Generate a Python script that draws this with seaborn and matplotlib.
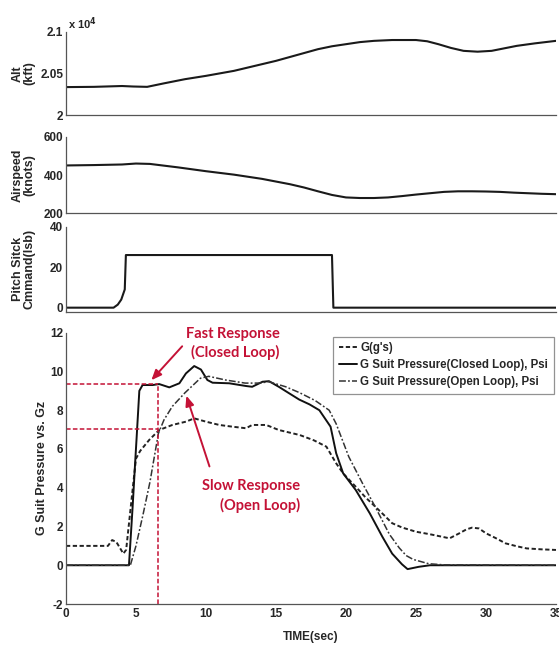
import matplotlib
matplotlib.use("Agg")
import matplotlib.pyplot as plt
import seaborn as sns

# ---------------- data ----------------
alt_time = [0, 2, 4, 4.8, 5.8, 7.0, 8.5, 10, 11, 12, 13.5, 15, 16.5, 18, 19, 20, 21, 22,
            23.3, 25, 25.8, 26.6, 27.5, 28.4, 29.4, 30.4, 31.3, 32.2, 33.5, 35]
alt_ft = [20335, 20338, 20348, 20342, 20338, 20380, 20430, 20470, 20500, 20530, 20590,
          20650, 20720, 20790, 20825, 20850, 20875, 20890, 20900, 20900, 20885, 20850,
          20805, 20770, 20760, 20770, 20800, 20830, 20860, 20890]
alt_ticks = [20000, 20500, 21000]
alt_ticklabels = ["2", "2.05", "2.1"]

spd_time = [0, 2, 4, 5, 6, 8, 10, 12, 14, 16, 17, 18, 19, 20, 21, 22, 23, 24, 25, 26,
            27, 28, 29, 30, 31, 32, 33, 34, 35]
airspeed = [450, 452, 455, 460, 458, 440, 420, 402, 380, 352, 335, 315, 296, 283, 280,
            280, 283, 290, 298, 305, 312, 315, 315, 314, 312, 308, 305, 302, 300]

pitch_time = [0, 3.4, 3.7, 3.95, 4.1, 4.2, 4.28, 19.0, 19.1, 35]
pitch_cmd = [0, 0, 1.5, 4, 7, 9, 26, 26, 0, 0]

g_time = [0, 3.0, 3.3, 3.6, 4.1, 4.3, 4.76, 5.0, 5.3, 5.95, 6.66, 7.6, 8.57, 9.16, 10.0,
          10.95, 11.9, 12.86, 13.3, 14.3, 15.2, 16.7, 17.7, 18.6, 19.3, 19.8, 20.7, 21.4,
          22.1, 22.7, 23.3, 24.0, 25.0, 26.0, 27.4, 28.1, 28.6, 29.0, 29.5, 30.0, 30.7,
          31.4, 32.2, 32.9, 34.0, 35.0]
g_val = [1.0, 1.0, 1.3, 1.2, 0.6, 0.8, 3.9, 5.5, 5.9, 6.47, 6.98, 7.24, 7.41, 7.58, 7.41,
         7.24, 7.15, 7.07, 7.24, 7.24, 6.98, 6.72, 6.45, 6.12, 5.26, 4.74, 4.05, 3.5,
         3.02, 2.6, 2.17, 1.95, 1.73, 1.6, 1.39, 1.65, 1.85, 1.94, 1.9, 1.65, 1.4,
         1.13, 0.98, 0.87, 0.82, 0.79]

cl_time = [0, 4.5, 4.76, 4.95, 5.04, 5.24, 5.47, 6.19, 6.66, 7.38, 8.1, 8.57, 9.16, 9.64,
           10.1, 10.47, 11.66, 12.86, 13.3, 14.04, 14.5, 15.2, 15.95, 16.66, 17.4, 18.1,
           18.9, 19.3, 19.8, 20.7, 21.7, 22.6, 23.3, 24.0, 24.4, 25.2, 26.0, 35.0]
cl_val = [0, 0, 3.0, 5.4, 6.5, 9.0, 9.3, 9.3, 9.35, 9.18, 9.39, 9.9, 10.28, 10.1, 9.56,
          9.42, 9.39, 9.25, 9.21, 9.47, 9.5, 9.21, 8.87, 8.55, 8.3, 8.0, 7.15, 5.78, 4.74,
          3.88, 2.68, 1.47, 0.6, 0.05, -0.2, -0.08, 0, 0]

ol_time = [0, 4.6, 5.0, 5.5, 6.0, 6.6, 7.0, 7.6, 8.5, 9.6, 10.2, 11.4, 12.8, 13.8, 14.5,
           15.7, 16.7, 17.8, 18.8, 19.3, 20.2, 21.2, 22.1, 22.6, 23.1, 23.8, 24.3, 24.8,
           25.9, 27.0, 35.0]
ol_val = [0, 0, 1.0, 2.6, 4.3, 6.8, 7.5, 8.2, 8.9, 9.65, 9.75, 9.56, 9.4, 9.4, 9.47, 9.21,
          8.9, 8.5, 8.0, 7.3, 5.6, 4.2, 3.0, 2.3, 1.6, 0.9, 0.5, 0.3, 0.08, 0.02, 0]

series_labels = ["G(g's)", "G Suit Pressure(Closed Loop), Psi", "G Suit Pressure(Open Loop), Psi"]
x_ticks = [0, 5, 10, 15, 20, 25, 30, 35]

ref_time = 6.6      # red vertical reference
fast_level = 9.35   # closed-loop level
slow_level = 7.05   # open-loop level

# ---------------- style ----------------
sns.set_style("white")
plt.rcParams["font.family"] = ["Liberation Sans", "DejaVu Sans"]
plt.rcParams["font.weight"] = "bold"
plt.rcParams["axes.labelweight"] = "bold"
plt.rcParams["axes.unicode_minus"] = False

RED = "#c41236"
SPINE = "#555555"

fig = plt.figure(figsize=(5.59, 6.52), dpi=100)
L, W = 0.118, 0.8766
ax1 = fig.add_axes([L, 0.8236, W, 0.1278])
ax2 = fig.add_axes([L, 0.6728, W, 0.1175])
ax3 = fig.add_axes([L, 0.5219, W, 0.1304])
ax4 = fig.add_axes([L, 0.0736, W, 0.4161])


def style_axis(ax):
    for s in ("top", "right"):
        ax.spines[s].set_visible(False)
    for s in ("left", "bottom"):
        ax.spines[s].set_color(SPINE)
        ax.spines[s].set_linewidth(0.9)
    ax.tick_params(direction="in", length=3.5, width=0.8, color=SPINE,
                   labelsize=8.5, pad=2)
    ax.set_xlim(0, 35)
    ax.set_xticks(x_ticks)
    for t in ax.get_xticklabels() + ax.get_yticklabels():
        t.set_fontweight("bold")


lw_main = 1.5
sns.lineplot(x=alt_time, y=alt_ft, ax=ax1, color="#1a1a1a", lw=lw_main, estimator=None)
sns.lineplot(x=spd_time, y=airspeed, ax=ax2, color="#1a1a1a", lw=lw_main, estimator=None)
sns.lineplot(x=pitch_time, y=pitch_cmd, ax=ax3, color="#1a1a1a", lw=lw_main, estimator=None)

ax1.set_ylim(20000, 21000)
ax1.set_yticks(alt_ticks)
ax1.set_yticklabels(alt_ticklabels)
ax2.set_ylim(200, 600)
ax2.set_yticks([200, 400, 600])
ax3.set_ylim(-2, 40)
ax3.set_yticks([0, 20, 40])

for ax in (ax1, ax2, ax3):
    style_axis(ax)
    ax.set_xticklabels([])

ax1.text(0.004, 1.0, r"x 10$^4$", transform=ax1.transAxes, fontsize=8,
         fontweight="bold", va="bottom", ha="left")

ax1.set_ylabel("Alt\n(kft)", fontsize=9, fontweight="bold", linespacing=1.0)
ax2.set_ylabel("Airspeed\n(knots)", fontsize=9, fontweight="bold", linespacing=1.0)
ax3.set_ylabel("Pitch Sitck\nCmmand(lsb)", fontsize=9, fontweight="bold", linespacing=1.0)
for ax in (ax1, ax2, ax3):
    ax.yaxis.set_label_coords(-0.062, 0.5)

# ---------------- bottom panel ----------------
sns.lineplot(x=g_time, y=g_val, ax=ax4, color="#222222", lw=1.4,
             linestyle=(0, (2.2, 1.3)), estimator=None, label=series_labels[0])
sns.lineplot(x=cl_time, y=cl_val, ax=ax4, color="#111111", lw=1.4,
             linestyle="-", estimator=None, label=series_labels[1])
sns.lineplot(x=ol_time, y=ol_val, ax=ax4, color="#333333", lw=1.1,
             linestyle=(0, (4.5, 1.4, 1.2, 1.4)), estimator=None, label=series_labels[2])

ax4.set_ylim(-2, 12)
ax4.set_yticks(list(range(-2, 13, 2)))
style_axis(ax4)
ax4.set_xticklabels([str(v) for v in x_ticks])
for t in ax4.get_xticklabels() + ax4.get_yticklabels():
    t.set_fontweight("bold")
ax4.tick_params(axis="x", pad=3)
ax4.set_xlabel("TIME(sec)", fontsize=8.5, fontweight="bold", labelpad=8)
ax4.set_ylabel("G Suit Pressure vs. Gz", fontsize=9, fontweight="bold")
ax4.yaxis.set_label_coords(-0.036, 0.5)

# red reference lines
ax4.hlines([fast_level, slow_level], 0, ref_time, colors=RED, linestyles=(0, (3, 1.5)), lw=1.1)
ax4.vlines(ref_time, -2, fast_level, colors=RED, linestyles=(0, (3, 1.5)), lw=1.1)

# annotations
ann_font = dict(family=["Lato", "DejaVu Sans"], fontweight="bold", fontsize=10.5, color=RED)
ax4.text(15.25, 11.45, "Fast Response\n(Closed Loop)", ha="right", va="center",
         multialignment="right", linespacing=1.35, **ann_font)
ax4.text(16.7, 3.58, "Slow Response\n(Open Loop)", ha="right", va="center",
         multialignment="right", linespacing=1.35, **ann_font)
arrow = dict(arrowstyle="-|>,head_length=0.6,head_width=0.25", color=RED, lw=1.4,
             shrinkA=0, shrinkB=0)
ax4.annotate("", xy=(6.1, 9.55), xytext=(8.3, 11.3), arrowprops=arrow)
ax4.annotate("", xy=(8.6, 8.75), xytext=(10.25, 5.1), arrowprops=arrow)

leg = ax4.legend(loc="upper right", bbox_to_anchor=(0.995, 0.985), fontsize=8.3,
                 frameon=True, fancybox=False, handlelength=1.6, handletextpad=0.3,
                 borderpad=0.45, labelspacing=0.45, borderaxespad=0)
leg.get_frame().set_edgecolor("#777777")
leg.get_frame().set_linewidth(0.9)
for t in leg.get_texts():
    t.set_fontweight("bold")

fig.savefig("out.png", dpi=100)
